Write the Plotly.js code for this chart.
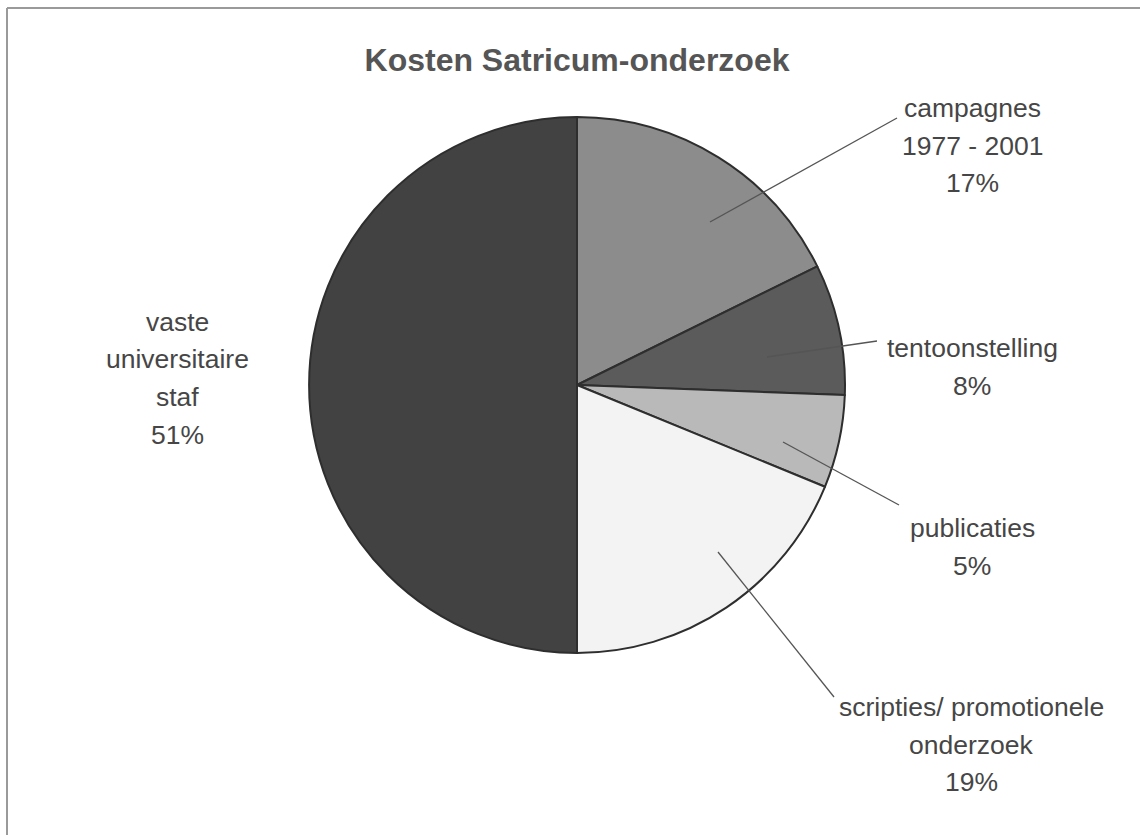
<!DOCTYPE html>
<html>
<head>
<meta charset="utf-8">
<script src="https://cdn.plot.ly/plotly-3.0.1.min.js"></script>
<style>html,body{margin:0;padding:0;background:#fff;}#chart{width:1140px;height:835px;}</style>
</head>
<body>
<div id="chart"></div>
<script>
// ---- data ----
const categories = ['campagnes 1977 - 2001', 'tentoonstelling', 'publicaties', 'scripties/ promotionele onderzoek', 'vaste universitaire staf'];
const labelLines = [['campagnes', '1977 - 2001'], ['tentoonstelling'], ['publicaties'], ['scripties/ promotionele', 'onderzoek'], ['vaste', 'universitaire', 'staf']];
const shares = [17.7, 7.9, 5.6, 18.8, 50.0];
const percentLabels = ['17%', '8%', '5%', '19%', '51%'];
const sliceColors = ['#8c8c8c', '#5b5b5b', '#b9b9b9', '#f3f3f3', '#424242'];
const titleText = 'Kosten Satricum-onderzoek';

// ---- layout helpers (positions in page pixels) ----
const W = 1140, H = 835;
const px = x => x / W;
const py = y => 1 - y / H;

const labelPos = [
  {x: 972, y0: 108, gap: 37.5},
  {x: 972, y0: 348, gap: 38},
  {x: 972, y0: 528, gap: 38},
  {x: 971, y0: 707, gap: 37.5},
  {x: 177, y0: 322, gap: 37.5}
];
const leaders = [
  [[710, 222], [897, 118]],
  [[767, 357], [877, 341]],
  [[783, 442], [899, 505]],
  [[718, 552], [834, 697]],
  null
];

const annotations = [];
labelLines.forEach((lines, i) => {
  const all = lines.concat([percentLabels[i]]);
  all.forEach((t, j) => {
    annotations.push({
      text: t, showarrow: false, xref: 'paper', yref: 'paper',
      x: px(labelPos[i].x), y: py(labelPos[i].y0 + j * labelPos[i].gap),
      xanchor: 'center', yanchor: 'middle',
      font: {family: 'Liberation Sans, Arial, sans-serif', size: 26.5, color: '#464646'}
    });
  });
});

const shapes = [
  {type: 'line', xref: 'paper', yref: 'paper', x0: px(7), y0: py(8), x1: 1, y1: py(8), line: {color: '#9a9a9a', width: 2}},
  {type: 'line', xref: 'paper', yref: 'paper', x0: px(7), y0: py(8), x1: px(7), y1: 0, line: {color: '#9a9a9a', width: 2}}
];
leaders.forEach(l => {
  if (!l) return;
  shapes.push({type: 'line', xref: 'paper', yref: 'paper',
    x0: px(l[0][0]), y0: py(l[0][1]), x1: px(l[1][0]), y1: py(l[1][1]),
    line: {color: '#555555', width: 1.3}});
});

const cx = 577, cy = 385, R = 268;

const trace = {
  type: 'pie',
  labels: categories,
  values: shares,
  sort: false,
  direction: 'clockwise',
  rotation: 0,
  textinfo: 'none',
  hoverinfo: 'label+percent',
  marker: {colors: sliceColors, line: {color: '#2e2e2e', width: 2}},
  domain: {x: [px(cx - R), px(cx + R)], y: [py(cy + R), py(cy - R)]},
  showlegend: false
};

const layout = {
  width: W, height: H,
  margin: {l: 0, r: 0, t: 0, b: 0},
  paper_bgcolor: '#ffffff',
  showlegend: false,
  title: {
    text: '<b>' + titleText + '</b>',
    x: px(577), xanchor: 'center',
    y: py(60), yanchor: 'middle', yref: 'paper',
    font: {family: 'Liberation Sans, Arial, sans-serif', size: 32, color: '#555555'}
  },
  annotations: annotations,
  shapes: shapes
};

Plotly.newPlot('chart', [trace], layout, {displayModeBar: false, staticPlot: true});
</script>
</body>
</html>
